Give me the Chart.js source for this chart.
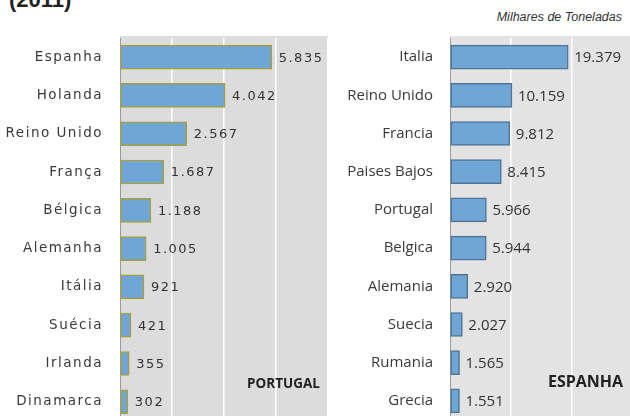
<!DOCTYPE html>
<html lang="pt">
<head>
<meta charset="UTF-8">
<title>Exportacoes 2011</title>
<script src="https://cdn.jsdelivr.net/npm/chart.js"></script>
<style>
  html, body { margin: 0; padding: 0; background: #fff; overflow: hidden; }
  body { width: 630px; height: 416px; position: relative; }
  canvas { position: absolute; top: 0; }
  #chartPt { left: 0; }
  #chartEs { left: 330px; }
  .txt { position: absolute; white-space: nowrap; color: #333; }
  #titulo { left: 9px; top: -11px; font: bold 22px "Liberation Sans", Arial, sans-serif; color: #222; line-height: 21px; }
  #unidade { right: 8px; top: 10px; font: italic 12.5px "Liberation Sans", Arial, sans-serif; }
  #lblPt { left: 247px; top: 374px; font: bold 13.5px "Open Sans", sans-serif; color: #222; }
  #lblEs { left: 548px; top: 370px; font: bold 16px "Open Sans", sans-serif; color: #222; }
</style>
</head>
<body>
<div class="txt" id="titulo">(2011)</div>
<div class="txt" id="unidade">Milhares de Toneladas</div>
<canvas id="chartPt" width="330" height="446"></canvas>
<canvas id="chartEs" width="303" height="446"></canvas>
<div class="txt" id="lblPt">PORTUGAL</div>
<div class="txt" id="lblEs">ESPANHA</div>

<script>
// destinos das exportacoes de Portugal
var paisesPt = ['Espanha', 'Holanda', 'Reino Unido', 'França', 'Bélgica', 'Alemanha', 'Itália', 'Suécia', 'Irlanda', 'Dinamarca'];
var valoresPt = [5835, 4042, 2567, 1687, 1188, 1005, 921, 421, 355, 302];
var ticksPt = [0, 2000, 4000, 6000, 8000];

// destinos das exportacoes de Espanha
var paisesEs = ['Italia', 'Reino Unido', 'Francia', 'Paises Bajos', 'Portugal', 'Belgica', 'Alemania', 'Suecia', 'Rumania', 'Grecia'];
var valoresEs = [19379, 10159, 9812, 8415, 5966, 5944, 2920, 2027, 1565, 1551];
var ticksEs = [0, 10000, 20000, 30000];

function fmt(n) {
    return n.toString().replace(/\B(?=(\d{3})+(?!\d))/g, '.');
}

// fundo cinza da area do grafico
var fundo = {
    id: 'fundo',
    beforeDraw: function(chart, args, opts) {
        var a = chart.chartArea;
        chart.ctx.save();
        chart.ctx.fillStyle = opts.cor;
        chart.ctx.fillRect(a.left, a.top - 2, a.right - a.left, a.bottom - a.top + 2);
        chart.ctx.restore();
        chart.ctx.letterSpacing = opts.espaco || '0px';
    },
    afterDraw: function(chart) {
        chart.ctx.letterSpacing = '0px';
    }
};

// valores ao lado de cada barra
var rotulos = {
    id: 'rotulos',
    afterDatasetsDraw: function(chart, args, opts) {
        var ctx = chart.ctx;
        var ds = chart.data.datasets[0];
        ctx.save();
        ctx.font = opts.font;
        ctx.fillStyle = '#333';
        ctx.textAlign = 'left';
        ctx.textBaseline = 'middle';
        chart.getDatasetMeta(0).data.forEach(function(bar, i) {
            ctx.fillText(fmt(ds.data[i]), bar.x + opts.offset, bar.y + 1);
        });
        ctx.restore();
    }
};

function criar(id, paises, valores, ticks, cfg) {
    var ctx = document.getElementById(id).getContext('2d');
    return new Chart(ctx, {
        type: 'bar',
        data: {
            labels: paises,
            datasets: [{
                data: valores,
                backgroundColor: '#6fa6d5',
                borderColor: cfg.borda,
                borderWidth: 1.5,
                borderSkipped: false,
                barThickness: 24
            }]
        },
        options: {
            indexAxis: 'y',
            responsive: false,
            animation: false,
            layout: { padding: { top: 38, bottom: 3, left: 0, right: cfg.direita } },
            scales: {
                x: {
                    min: ticks[0],
                    max: ticks[ticks.length - 1],
                    afterBuildTicks: function(scale) {
                        scale.ticks = ticks.map(function(v) { return { value: v }; });
                    },
                    afterFit: function(scale) { scale.height = 0; },
                    ticks: { display: false },
                    border: { display: false },
                    grid: {
                        drawTicks: false,
                        lineWidth: 1.5,
                        color: function(c) { return c.tick && c.tick.value === 0 ? 'rgba(0,0,0,0)' : '#ffffff'; }
                    }
                },
                y: {
                    afterFit: function(scale) { scale.width = 120; },
                    grid: { display: false, drawTicks: false },
                    border: { display: true, color: '#9a9a9a', width: 1 },
                    ticks: { color: '#3a3a3a', font: cfg.fonteEixo, padding: 17 }
                }
            },
            plugins: {
                legend: { display: false },
                tooltip: { enabled: false },
                fundo: { cor: cfg.fundo, espaco: cfg.espaco },
                rotulos: { font: cfg.fonteValor, offset: cfg.offset }
            }
        },
        plugins: [fundo, rotulos]
    });
}

criar('chartPt', paisesPt, valoresPt, ticksPt, {
    borda: '#a3a13f',
    direita: 2,
    fundo: '#dcdcdc',
    espaco: '1.5px',
    fonteEixo: { family: 'DejaVu Sans', size: 13.5 },
    fonteValor: '13px "DejaVu Sans"',
    offset: 7
});

criar('chartEs', paisesEs, valoresEs, ticksEs, {
    borda: '#4f7394',
    direita: 0,
    fundo: '#e3e3e3',
    espaco: '0px',
    fonteEixo: { family: 'Open Sans', size: 15 },
    fonteValor: '15px "Open Sans"',
    offset: 6
});
</script>
</body>
</html>
